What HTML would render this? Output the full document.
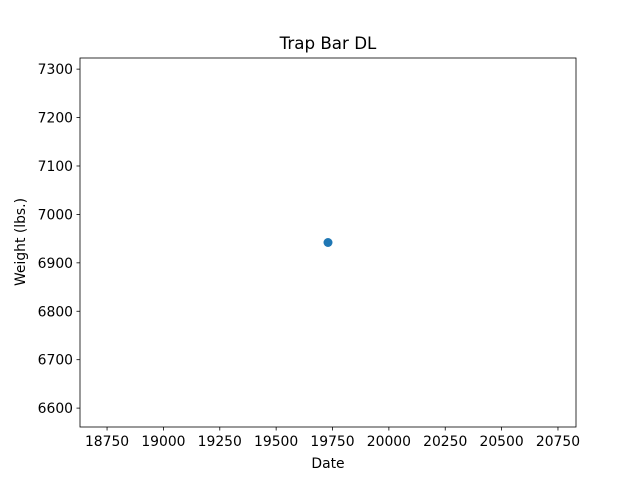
<!DOCTYPE html>
<html><head><meta charset="utf-8"><style>
body{margin:0;background:#fff;}
svg text{font-family:"DejaVu Sans","Liberation Sans",sans-serif;fill:#000;}
</style></head><body>
<svg id="chart" width="640" height="480" viewBox="0 0 640 480">
<rect width="640" height="480" fill="#fff"/>
<text x="328" y="49" font-size="16.7" text-anchor="middle">Trap Bar DL</text>
<g id="xt"></g>
<g id="yt"></g>
<text x="328" y="468" font-size="13.9" text-anchor="middle">Date</text>
<text transform="translate(25,242) rotate(-90)" font-size="13.9" text-anchor="middle">Weight (lbs.)</text>
<g id="pts"></g>
<rect x="80" y="58" width="496" height="369" fill="none" stroke="#000" stroke-width="0.8"/>
</svg>
<script>
const dates=[19730];
const weights=[6942];
const xTicks=[18750,19000,19250,19500,19750,20000,20250,20500,20750];
const yTicks=[6600,6700,6800,6900,7000,7100,7200,7300];
const X0=80,X1=576,Y0=427,Y1=58;
const xd=[18630,20830],yd=[6561,7323];
const sx=v=>X0+(v-xd[0])/(xd[1]-xd[0])*(X1-X0);
const sy=v=>Y0-(v-yd[0])/(yd[1]-yd[0])*(Y0-Y1);
const NS="http://www.w3.org/2000/svg";
const xt=document.getElementById('xt'),yt=document.getElementById('yt'),pts=document.getElementById('pts');
xTicks.forEach(t=>{
 const l=document.createElementNS(NS,'line');
 l.setAttribute('x1',sx(t));l.setAttribute('x2',sx(t));l.setAttribute('y1',Y0);l.setAttribute('y2',Y0+3.5);l.setAttribute('stroke','#000');l.setAttribute('stroke-width','0.8');
 
 
 xt.appendChild(l);
 const s=document.createElementNS(NS,'text');
 s.setAttribute('x',sx(t));s.setAttribute('y',Y0+19);s.setAttribute('font-size','13.9');s.setAttribute('text-anchor','middle');s.textContent=t;
 
 
 xt.appendChild(s);
});
yTicks.forEach(t=>{
 const l=document.createElementNS(NS,'line');
 l.setAttribute('x1',X0-3.5);l.setAttribute('x2',X0);l.setAttribute('y1',sy(t));l.setAttribute('y2',sy(t));l.setAttribute('stroke','#000');l.setAttribute('stroke-width','0.8');
 
 
 yt.appendChild(l);
 const s=document.createElementNS(NS,'text');
 s.setAttribute('x',X0-7);s.setAttribute('y',sy(t)+5);s.setAttribute('font-size','13.9');s.setAttribute('text-anchor','end');s.textContent=t;
 
 
 yt.appendChild(s);
});
dates.forEach((d,i)=>{
 const c=document.createElementNS(NS,'circle');
 c.setAttribute('cx',sx(d));c.setAttribute('cy',sy(weights[i]));c.setAttribute('r','4.5');c.setAttribute('fill','#1f77b4');
 
 
 pts.appendChild(c);
});
</script>
</body></html>
